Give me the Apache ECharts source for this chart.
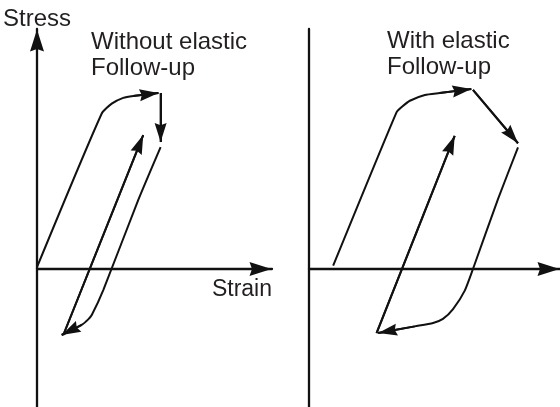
<!DOCTYPE html>
<html>
<head>
<meta charset="utf-8">
<script src="https://cdn.jsdelivr.net/npm/echarts@6/dist/echarts.min.js"></script>
<style>
  html, body { margin: 0; padding: 0; background: #ffffff; }
  #chart { width: 560px; height: 407px; }
</style>
</head>
<body>
<div id="chart"></div>
<script>
// Cyclic stress-strain paths in nominal strain (x) and stress (y) units.
// Panel 1: strain-controlled cycle (stress relaxes at constant strain)
const leftLoading = [[0, 0.08], [2.75, 6.47], [3.18, 6.89], [3.67, 7.13], [4.10, 7.21], [5.17, 7.33]];
const leftRelaxation = [[5.26, 7.33], [5.26, 5.29]];
const leftUnloading = [[5.26, 5.08], [4.31, 2.88], [2.82, -0.88], [2.33, -1.92], [2.18, -2.10], [1.90, -2.33], [1.05, -2.75]];
const leftReloading = [[1.12, -2.75], [4.52, 5.58]];

// Panel 2: cycle with elastic follow-up (strain grows while stress relaxes)
const rightLoading = [[1.03, 0.14], [3.73, 6.53], [3.94, 6.74], [4.30, 7.01], [4.94, 7.25], [5.57, 7.33], [6.92, 7.50]];
const rightRelaxation = [[6.99, 7.46], [8.91, 5.24]];
const rightUnloading = [[8.91, 5.07], [8.06, 2.92], [6.99, 0], [6.64, -0.90], [6.14, -1.67], [5.71, -2.08], [5.29, -2.25], [4.51, -2.39], [2.95, -2.67]];
const rightReloading = [[2.88, -2.67], [6.21, 5.55]];

const panelTitles = ['Without elastic\nFollow-up', 'With elastic\nFollow-up'];
const stressLabel = 'Stress';
const strainLabel = 'Strain';

const strainMax = [10, 10.7];
const stressMin = -5.75;
const stressMax = 10;

const INK = '#111111';
const TEXT = '#231f20';
const FONT = '"Liberation Sans", Arial, Helvetica, sans-serif';
// Filled arrowhead with a shallow notch at its base, tip pointing up
const ARROW = 'path://M7,0 L14,22 L7,19.5 L0,22 Z';

// One path = polyline through its points, with an arrowhead on the last segment
function pathSeries(gridIndex, pts) {
  const n = pts.length;
  return {
    type: 'line',
    xAxisIndex: gridIndex,
    yAxisIndex: gridIndex,
    data: pts,
    symbol: 'none',
    showSymbol: false,
    smooth: 0.2,
    clip: false,
    silent: true,
    animation: false,
    lineStyle: { color: INK, width: 2 },
    markLine: {
      silent: true,
      animation: false,
      symbol: ['none', ARROW],
      symbolSize: [12, 19],
      symbolOffset: [[0, 0], [0, 9.5]],
      label: { show: false },
      lineStyle: { color: INK, width: 2, type: 'solid' },
      data: [[{ coord: pts[n - 2] }, { coord: pts[n - 1] }]]
    }
  };
}

function strainAxis(gridIndex) {
  return {
    gridIndex: gridIndex,
    type: 'value',
    min: 0,
    max: strainMax[gridIndex],
    axisLine: {
      onZero: true,
      symbol: ['none', ARROW],
      symbolSize: [14, 23],
      symbolOffset: [0, -11.5],
      lineStyle: { color: INK, width: 2.3 }
    },
    axisTick: { show: false },
    axisLabel: { show: false },
    splitLine: { show: false }
  };
}

function stressAxis(gridIndex, withArrow) {
  const axis = {
    gridIndex: gridIndex,
    type: 'value',
    min: stressMin,
    max: stressMax,
    axisLine: {
      show: true,
      onZero: true,
      symbol: withArrow ? ['none', ARROW] : 'none',
      symbolSize: [14, 23],
      symbolOffset: [0, -11.5],
      lineStyle: { color: INK, width: 2.3 }
    },
    axisTick: { show: false },
    axisLabel: { show: false },
    splitLine: { show: false }
  };
  if (withArrow) {
    axis.name = stressLabel;
    axis.nameLocation = 'end';
    axis.nameGap = -2;
    axis.nameTextStyle = { fontFamily: FONT, fontSize: 24, color: TEXT };
  }
  return axis;
}

const chart = echarts.init(document.getElementById('chart'), null, { renderer: 'canvas' });

chart.setOption({
  animation: false,
  backgroundColor: '#ffffff',
  grid: [
    { left: 37, top: 29, width: 235, height: 378, outerBoundsMode: 'none' },
    { left: 309, top: 29, width: 251, height: 378, outerBoundsMode: 'none' }
  ],
  xAxis: [strainAxis(0), strainAxis(1)],
  yAxis: [stressAxis(0, true), stressAxis(1, false)],
  graphic: [
    {
      type: 'text', left: 91, top: 29, silent: true,
      style: { text: panelTitles[0], fontFamily: FONT, fontSize: 24, lineHeight: 26, fill: TEXT }
    },
    {
      type: 'text', left: 387, top: 28, silent: true,
      style: { text: panelTitles[1], fontFamily: FONT, fontSize: 24, lineHeight: 26, fill: TEXT }
    },
    {
      type: 'text', right: 288, top: 277, silent: true,
      style: { text: strainLabel, fontFamily: FONT, fontSize: 23, lineHeight: 26, fill: TEXT }
    }
  ],
  series: [
    pathSeries(0, leftLoading),
    pathSeries(0, leftRelaxation),
    pathSeries(0, leftUnloading),
    pathSeries(0, leftReloading),
    pathSeries(1, rightLoading),
    pathSeries(1, rightRelaxation),
    pathSeries(1, rightUnloading),
    pathSeries(1, rightReloading)
  ]
});
</script>
</body>
</html>
